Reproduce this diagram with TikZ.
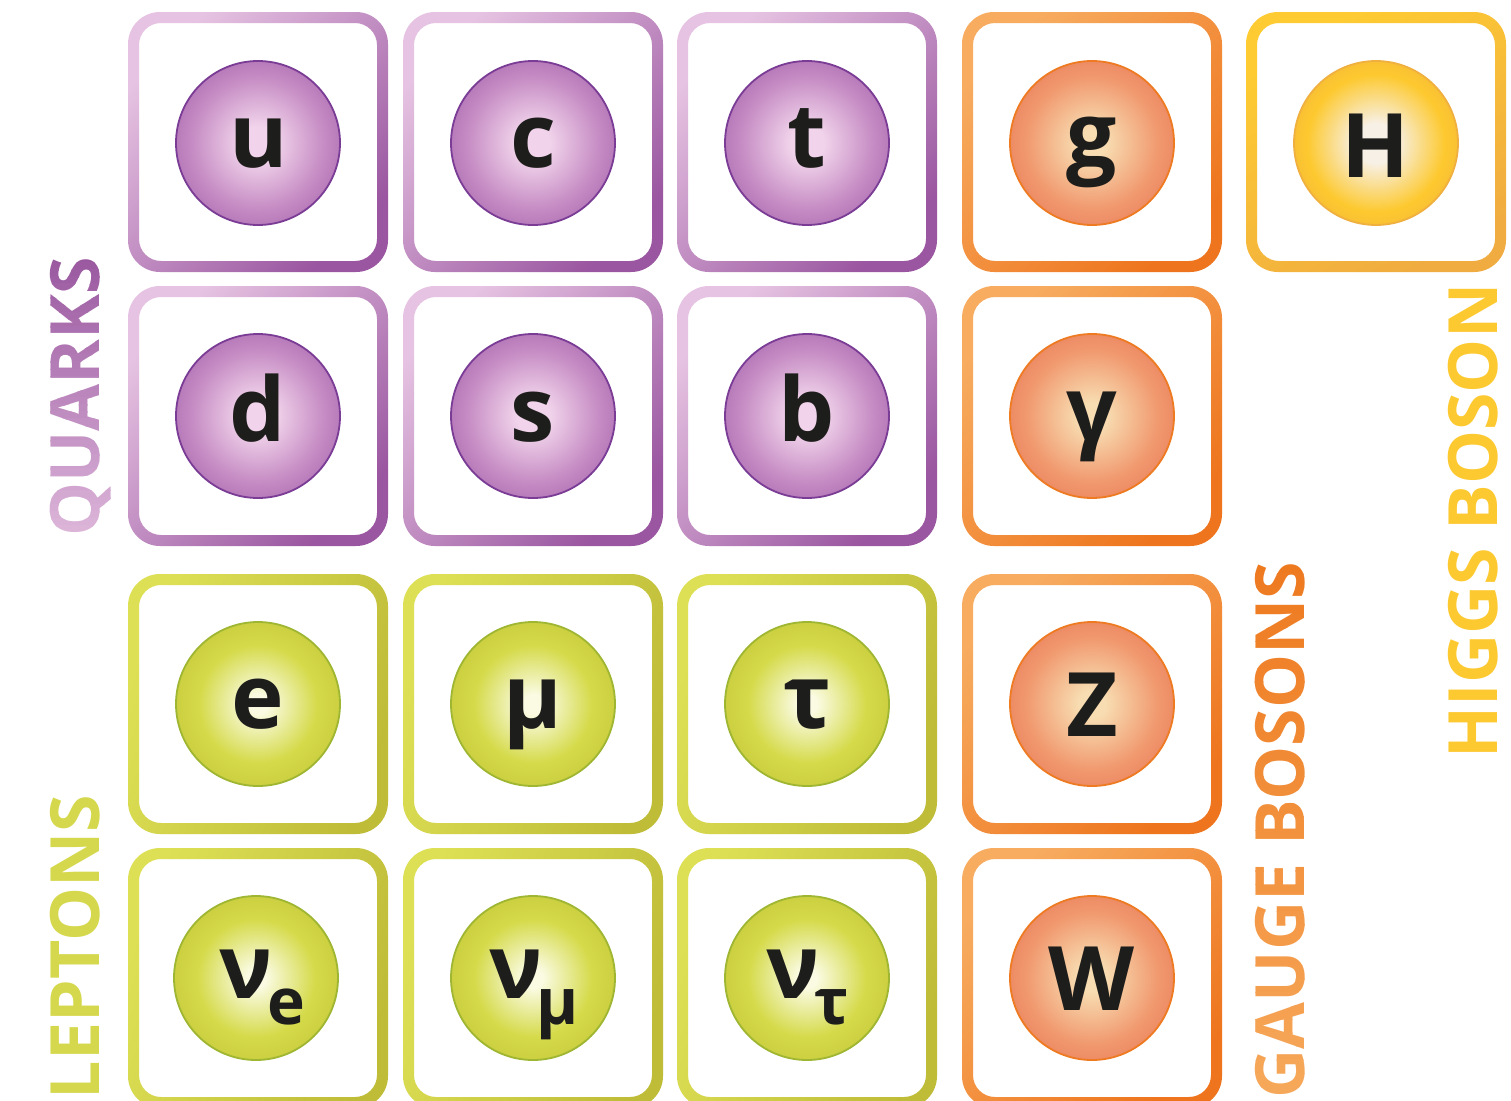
\documentclass[tikz,border=0pt]{standalone}
\usepackage{fontspec}
\setmainfont{Open Sans}
\usetikzlibrary{shadings}
% colours
\definecolor{ink}{HTML}{1D1D1B}
\definecolor{qb1}{HTML}{E6C3E2}\definecolor{qb2}{HTML}{9A56A0}
\definecolor{lb1}{HTML}{DDE055}\definecolor{lb2}{HTML}{BFBC38}
\definecolor{gb1}{HTML}{F7AC60}\definecolor{gb2}{HTML}{EE751E}
\definecolor{hb1}{HTML}{FECC32}\definecolor{hb2}{HTML}{F0AC40}
\definecolor{qc0}{HTML}{F1D4EB}\definecolor{qc1}{HTML}{C68CC4}\definecolor{qc2}{HTML}{9A55A5}\definecolor{qline}{HTML}{7A3C95}
\definecolor{lc0}{HTML}{FAFBE2}\definecolor{lc1}{HTML}{D5DA4A}\definecolor{lc2}{HTML}{BCBF31}\definecolor{lline}{HTML}{9EB632}
\definecolor{gc0}{HTML}{F8DDB2}\definecolor{gc1}{HTML}{F1996F}\definecolor{gc2}{HTML}{E46F50}\definecolor{gline}{HTML}{EE7A22}
\definecolor{hc0}{HTML}{F7F0E6}\definecolor{hc1}{HTML}{FDC92F}\definecolor{hc2}{HTML}{EEAA40}\definecolor{hline}{HTML}{F0B040}
\definecolor{qlab1}{HTML}{9A58A0}\definecolor{qlab2}{HTML}{DDB6DA}
\definecolor{glab1}{HTML}{EE7A20}\definecolor{glab2}{HTML}{F6A85A}
\definecolor{llab}{HTML}{D5D84C}\definecolor{hlab}{HTML}{FDC930}
\pgfdeclareradialshading{qball}{\pgfpoint{0bp}{0bp}}{color(0bp)=(qc0); color(5bp)=(qc0); color(20bp)=(qc1); color(36bp)=(qc2); color(50bp)=(qc2)}
\pgfdeclareradialshading{lball}{\pgfpoint{0bp}{0bp}}{color(0bp)=(lc0); color(3bp)=(lc0); color(18bp)=(lc1); color(36bp)=(lc2); color(50bp)=(lc2)}
\pgfdeclareradialshading{gball}{\pgfpoint{0bp}{0bp}}{color(0bp)=(gc0); color(4bp)=(gc0); color(20bp)=(gc1); color(36bp)=(gc2); color(50bp)=(gc2)}
\pgfdeclareradialshading{hball}{\pgfpoint{0bp}{0bp}}{color(0bp)=(hc0); color(6bp)=(hc0); color(21bp)=(hc1); color(36bp)=(hc2); color(50bp)=(hc2)}
\tikzset{
  ringq/.style={left color=qb1, right color=qb2, shading angle=45},
  ringl/.style={left color=lb1, right color=lb2, shading angle=70},
  ringg/.style={left color=gb1, right color=gb2, shading angle=45},
  ringh/.style={left color=hb1, right color=hb2, shading angle=30},
  ball/.style={circle, minimum size=164pt, inner sep=0pt, line width=1.8pt, shade},
  qballn/.style={ball, shading=qball, draw=qline},
  lballn/.style={ball, shading=lball, draw=lline},
  gballn/.style={ball, shading=gball, draw=gline},
  hballn/.style={ball, shading=hball, draw=hline},
  sym/.style={anchor=base, inner sep=0pt, text=ink, font=\fontsize{89}{89}\selectfont\bfseries},
  lbl/.style={rotate=90, inner sep=0pt, text height=48.5pt, text depth=0pt, font=\fontsize{68}{68}\selectfont\bfseries},
}
\newcommand\ringbox[3]{%
  \shade[#3, even odd rule] (#1-130,#2-130) [rounded corners=32pt] rectangle (#1+130,#2+130)
     (#1-119,#2-119) [rounded corners=22pt] rectangle (#1+119,#2+119);}
\newcommand\gradlabel[8]{% name, x, y, text, dark, light, ytop, ybottom
  \pgfmathsetmacro\hh{(#8-#7)/40}%
  \foreach \i in {0,...,39}{%
    \pgfmathsetmacro\pp{100*\i/39}%
    \pgfmathsetmacro\ya{#7+\hh*\i}%
    \pgfmathsetmacro\yb{#7+\hh*(\i+1)+0.8}%
    \begin{scope}
      \clip (#2-45,\ya) rectangle (#2+45,\yb);
      \node[lbl, text={#6!\pp!#5}] (#1\i) at (#2,#3) {#4};
    \end{scope}}}
\newcommand\subfont{\fontsize{64}{64}\selectfont\bfseries}
\begin{document}
\begin{tikzpicture}[x=1pt,y=-1pt]
\useasboundingbox (0,0) rectangle (1511,1100);
\fill[white] (0,0) rectangle (1511,1100);
% boxes
\foreach \x in {258,533,807}{\foreach \y in {142,416}{\ringbox{\x}{\y}{ringq}}}
\foreach \x in {258,533,807}{\foreach \y in {704,978}{\ringbox{\x}{\y}{ringl}}}
\foreach \y in {142,416,704,978}{\ringbox{1092}{\y}{ringg}}
\ringbox{1376}{142}{ringh}
% quarks
\node[qballn] (bu) at (258,143) {};
\node[qballn] (bc) at (533,143) {};
\node[qballn] (bt) at (807,143) {};
\node[qballn] (bd) at (258,416) {};
\node[qballn] (bs) at (533,416) {};
\node[qballn] (bb) at (807,416) {};
\node[sym] (tu) at (259,167) {u};
\node[sym] (tc) at (533,167) {c};
\node[sym] (tt) at (807,167) {t};
\node[sym] (td) at (258,441) {d};
\node[sym] (ts) at (533,441) {s};
\node[sym] (tb) at (807,441) {b};
% leptons
\node[lballn] (be) at (258,704) {};
\node[lballn] (bmu) at (533,704) {};
\node[lballn] (btau) at (807,704) {};
\node[lballn] (bne) at (256,978) {};
\node[lballn] (bnmu) at (533,978) {};
\node[lballn] (bntau) at (807,978) {};
\node[sym] (te) at (258,728) {e};
\node[sym] (tmu) at (533,728) {μ};
\node[sym] (ttau) at (807,728) {τ};
\node[sym] (tne) at (262,998) {ν\kern-5pt\raisebox{-26pt}{\subfont e}};
\node[sym] (tnmu) at (534,998) {ν\kern-6pt\raisebox{-26pt}{\subfont μ}};
\node[sym] (tntau) at (808,998) {ν\kern-5pt\raisebox{-26pt}{\subfont τ}};
% gauge bosons
\node[gballn] (bg) at (1092,143) {};
\node[gballn] (bgam) at (1092,416) {};
\node[gballn] (bz) at (1092,704) {};
\node[gballn] (bw) at (1092,978) {};
\node[sym] (tg) at (1092,166) {g};
\node[sym] (tgam) at (1092,440) {γ};
\node[sym] (tz) at (1092,736) {Z};
\node[sym] (tw) at (1092,1010) {W};
% higgs
\node[hballn] (bh) at (1376,143) {};
\node[sym] (th) at (1376,177) {H};
% category labels
\gradlabel{quarks}{75}{397}{QUARKS}{qlab1}{qlab2}{255}{540}
\gradlabel{gauge}{1280}{830}{GAUGE BOSONS}{glab1}{glab2}{560}{1100}
\node[lbl, text=llab] (leptons) at (75,947) {LEPTONS};
\node[lbl, text=hlab] (higgs) at (1473,521) {HIGGS BOSON};
\end{tikzpicture}
\end{document}
